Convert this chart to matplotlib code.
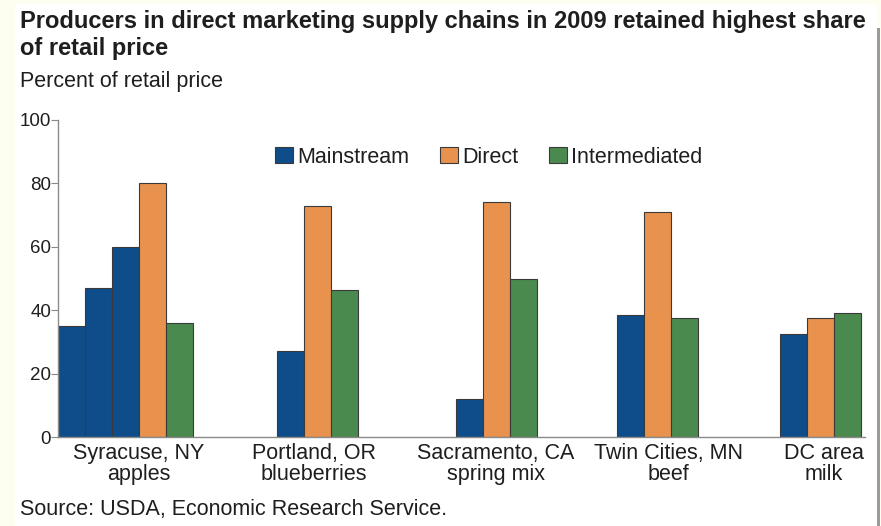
import matplotlib.pyplot as plt
from matplotlib.patches import Rectangle

# data
cities = ['Syracuse, NY\napples', 'Portland, OR\nblueberries', 'Sacramento, CA\nspring mix',
          'Twin Cities, MN\nbeef', 'DC area\nmilk']
mainstream = [[35, 47, 60], [27], [12], [38.5], [32.5]]
direct = [80, 73, 74, 71, 37.5]
intermediated = [36, 46.5, 50, 37.5, 39]

# layout (pixel-like x units)
group_left = [0, 219, 398, 559, 722]
label_pos = [81, 256, 438, 610, 766]
bw = 27

c_main = '#0e4c8a'
c_dir = '#e8924e'
c_int = '#4a8a4e'
edge = '#3a3a3a'
txt = '#1e1e1e'

plt.rcParams['font.family'] = ['Liberation Sans', 'DejaVu Sans']

W, H = 881, 526
fig = plt.figure(figsize=(W / 100, H / 100), dpi=100, facecolor='#fefef0')

# white panel + grey right border
fig.patches.append(Rectangle((15 / W, 0), (877 - 15) / W, 1 - 4 / H, transform=fig.transFigure,
                             facecolor='white', edgecolor='none', zorder=-5))
fig.patches.append(Rectangle((877 / W, 0), 3 / W, 1 - 28 / H, transform=fig.transFigure,
                             facecolor='#9a9a9a', edgecolor='none', zorder=-5))

ax = fig.add_axes([58 / W, 1 - 437 / H, (865 - 58) / W, (437 - 120) / H])
ax.set_facecolor('none')

for i in range(len(cities)):
    x = group_left[i]
    for j, v in enumerate(mainstream[i]):
        ax.bar(x, v, width=bw, align='edge', color=c_main, edgecolor=edge, linewidth=0.8,
               label='Mainstream' if (i == 0 and j == 0) else None)
        x += bw
    ax.bar(x, direct[i], width=bw, align='edge', color=c_dir, edgecolor=edge, linewidth=0.8,
           label='Direct' if i == 0 else None)
    x += bw
    ax.bar(x, intermediated[i], width=bw, align='edge', color=c_int, edgecolor=edge, linewidth=0.8,
           label='Intermediated' if i == 0 else None)

ax.set_xlim(0, 807)
ax.set_ylim(0, 100)
ax.set_yticks([0, 20, 40, 60, 80, 100])
ax.set_xticks(label_pos)
ax.set_xticklabels(cities, fontsize=15.5, color=txt, linespacing=1.05)
ax.tick_params(axis='x', length=0, pad=4)
ax.tick_params(axis='y', length=5, width=0.8, color='#888888', labelsize=13.5, labelcolor=txt, pad=0)
for s in ['top', 'right']:
    ax.spines[s].set_visible(False)
for s in ['left', 'bottom']:
    ax.spines[s].set_color('#8a8a8a')
    ax.spines[s].set_linewidth(1.0)

leg = ax.legend(loc='center left', bbox_to_anchor=(217 / 807, 0.883), ncol=3, frameon=False,
                fontsize=15.5, handlelength=0.85, handleheight=0.75, handletextpad=0.2,
                columnspacing=1.4, borderaxespad=0, borderpad=0)
for t in leg.get_texts():
    t.set_color(txt)

fig.text(20 / W, 1 - 10 / H,
         'Producers in direct marketing supply chains in 2009 retained highest share\nof retail price',
         fontsize=17, fontweight='bold', color=txt, ha='left', va='top', linespacing=1.2)
fig.text(20 / W, 1 - 82 / H, 'Percent of retail price', fontsize=15.5, color=txt, ha='left', va='center')
fig.text(20 / W, 1 - 510 / H, 'Source: USDA, Economic Research Service.', fontsize=15.5, color=txt,
         ha='left', va='center')

fig.savefig('out.png', dpi=100, facecolor=fig.get_facecolor())
